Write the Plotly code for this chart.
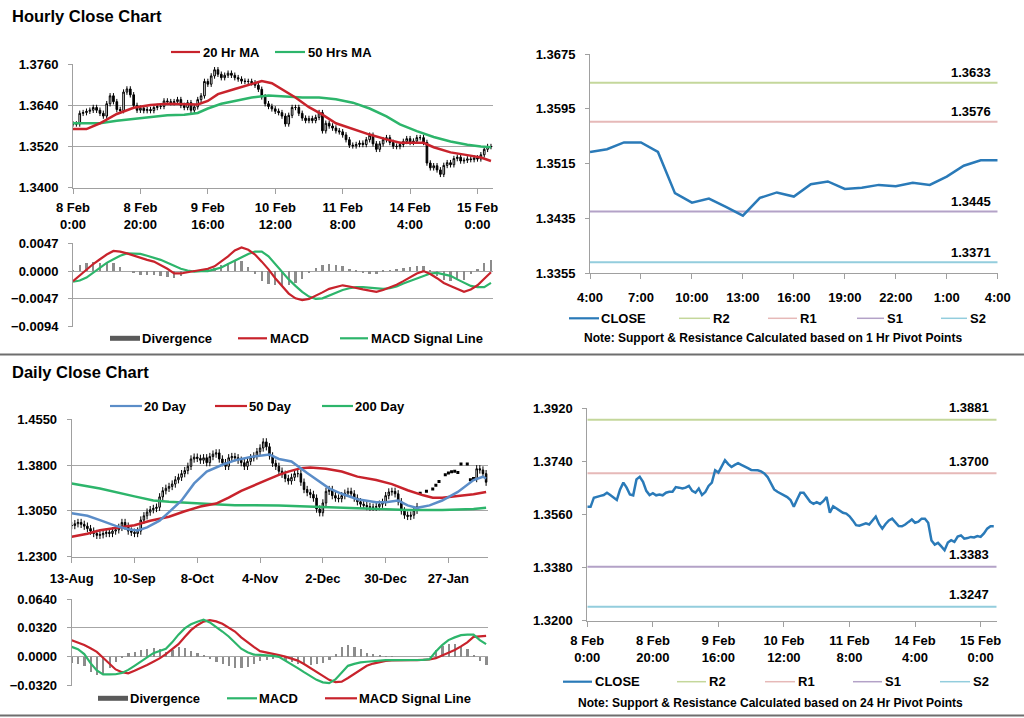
import plotly.graph_objects as go

W, H = 1024, 718
FONT = "Liberation Sans, Arial, Helvetica, sans-serif"

# ---------------- data ----------------
# hourly closes, 8 Feb 0:00 .. 15 Feb 4:00 (125 trading hours)
hourly_close = [
    1.3586, 1.3586, 1.3617, 1.3619, 1.3623, 1.3626, 1.3634, 1.3626, 1.3617, 1.3609,
    1.3645, 1.3668, 1.3651, 1.3628, 1.3625, 1.3679, 1.3688, 1.3671, 1.3640, 1.3626,
    1.3632, 1.3625, 1.3628, 1.3625, 1.3634, 1.3637, 1.3637, 1.3653, 1.3651, 1.3648,
    1.3651, 1.3657, 1.3640, 1.3634, 1.3648, 1.3626, 1.3636, 1.3657, 1.3668, 1.3710,
    1.3702, 1.3726, 1.3744, 1.3731, 1.3721, 1.3728, 1.3734, 1.3728, 1.3721, 1.3717,
    1.3711, 1.3710, 1.3710, 1.3706, 1.3699, 1.3687, 1.3665, 1.3645, 1.3637, 1.3630,
    1.3623, 1.3619, 1.3609, 1.3586, 1.3611, 1.3634, 1.3634, 1.3617, 1.3603, 1.3596,
    1.3602, 1.3596, 1.3605, 1.3619, 1.3566, 1.3588, 1.3580, 1.3574, 1.3566, 1.3563,
    1.3554, 1.3540, 1.3524, 1.3522, 1.3526, 1.3530, 1.3526, 1.3540, 1.3553, 1.3528,
    1.3512, 1.3528, 1.3540, 1.3546, 1.3532, 1.3521, 1.3520, 1.3526, 1.3535, 1.3543,
    1.3532, 1.3536, 1.3546, 1.3546, 1.3532, 1.3472, 1.3458, 1.3464, 1.3452, 1.3439,
    1.3465, 1.3473, 1.3467, 1.3485, 1.3489, 1.3478, 1.3480, 1.3484, 1.3482, 1.3487,
    1.3484, 1.3496, 1.3512, 1.3520, 1.3520,
]
hourly_tick_pos = [0, 20, 40, 60, 80, 100, 120]
hourly_tick_labels = ["8 Feb<br>0:00", "8 Feb<br>20:00", "9 Feb<br>16:00", "10 Feb<br>12:00",
                      "11 Feb<br>8:00", "14 Feb<br>4:00", "15 Feb<br>0:00"]

ma20h_x = [0, 4, 8, 13, 18, 23, 28, 33, 37, 40, 43, 48, 53, 56, 59, 62, 66, 70, 74, 78,
           83, 88, 93, 97, 101, 104, 107, 112, 117, 121, 124]
ma20h_y = [1.3571, 1.3571, 1.3588, 1.3615, 1.3633, 1.3641, 1.3645, 1.3645, 1.3643, 1.3653,
           1.3673, 1.3688, 1.3703, 1.3711, 1.3705, 1.3688, 1.3663, 1.3635, 1.3613, 1.3588,
           1.3571, 1.3555, 1.3541, 1.3531, 1.3531, 1.3531, 1.3518, 1.3503, 1.3495, 1.3488, 1.3478]
ma50h_x = [0, 4, 8, 13, 18, 23, 28, 33, 37, 40, 44, 48, 53, 58, 63, 68, 73, 78, 83, 88,
           93, 97, 102, 107, 112, 117, 121, 124]
ma50h_y = [1.3588, 1.3588, 1.3588, 1.3595, 1.3601, 1.3606, 1.3611, 1.3613, 1.3618, 1.3631,
           1.3645, 1.3653, 1.3663, 1.3669, 1.3666, 1.3663, 1.3663, 1.3658, 1.3648, 1.3631,
           1.3608, 1.3585, 1.3565, 1.3548, 1.3535, 1.3525, 1.3520, 1.3518]

hmacd_x = list(range(0, 125, 2))
hmacd = [
    -0.0017, -0.0007, 0.0003, 0.0012, 0.0020, 0.0028, 0.0034, 0.0033, 0.0030, 0.0026,
    0.0022, 0.0019, 0.0016, 0.0010, 0.0004, -0.0004, -0.0004, -0.0002, 0.0000, 0.0001,
    0.0004, 0.0008, 0.0016, 0.0025, 0.0035, 0.0040, 0.0036, 0.0028, 0.0016, 0.0003,
    -0.0012, -0.0026, -0.0038, -0.0046, -0.0049, -0.0047, -0.0042, -0.0036, -0.0030, -0.0027,
    -0.0024, -0.0026, -0.0029, -0.0031, -0.0033, -0.0035, -0.0032, -0.0028, -0.0023, -0.0017,
    -0.0011, -0.0004, 0.0000, -0.0005, -0.0012, -0.0020, -0.0025, -0.0030, -0.0035, -0.0031,
    -0.0024, -0.0013, -0.0002,
]
hsignal = [
    -0.0018, -0.0016, -0.0011, -0.0003, 0.0006, 0.0014, 0.0020, 0.0026, 0.0030, 0.0030,
    0.0029, 0.0026, 0.0023, 0.0019, 0.0014, 0.0009, 0.0004, 0.0001, -0.0001, 0.0000,
    0.0000, 0.0003, 0.0006, 0.0012, 0.0018, 0.0024, 0.0029, 0.0033, 0.0033, 0.0025,
    0.0012, -0.0001, -0.0014, -0.0025, -0.0035, -0.0043, -0.0047, -0.0046, -0.0041, -0.0036,
    -0.0032, -0.0029, -0.0027, -0.0027, -0.0028, -0.0029, -0.0030, -0.0029, -0.0026, -0.0021,
    -0.0017, -0.0012, -0.0008, -0.0004, -0.0003, -0.0005, -0.0008, -0.0014, -0.0020, -0.0025,
    -0.0027, -0.0027, -0.0020,
]

last25_tick_pos = [0, 3, 6, 9, 12, 15, 18, 21, 24]
last25_tick_labels = ["4:00", "7:00", "10:00", "13:00", "16:00", "19:00", "22:00", "1:00", "4:00"]

pivot_names = ["R2", "R1", "S1", "S2"]
hourly_pivots = [1.3633, 1.3576, 1.3445, 1.3371]
daily_pivots = [1.3881, 1.3700, 1.3383, 1.3247]

daily_tick_pos = [0, 20, 40, 60, 80, 100, 120]
daily_tick_labels = ["13-Aug", "10-Sep", "8-Oct", "4-Nov", "2-Dec", "30-Dec", "27-Jan"]

# daily closes, day 0 .. 110
daily_close_a = [
    1.281, 1.284, 1.286, 1.283, 1.280, 1.276, 1.272, 1.268, 1.265, 1.266,
    1.268, 1.270, 1.268, 1.272, 1.274, 1.278, 1.286, 1.280, 1.272, 1.270,
    1.268, 1.272, 1.290, 1.297, 1.303, 1.307, 1.309, 1.311, 1.328, 1.338,
    1.342, 1.345, 1.349, 1.356, 1.360, 1.366, 1.371, 1.378, 1.390, 1.393,
    1.391, 1.388, 1.392, 1.384, 1.394, 1.398, 1.400, 1.390, 1.384, 1.378,
    1.392, 1.394, 1.392, 1.388, 1.384, 1.378, 1.386, 1.392, 1.395, 1.402,
    1.408, 1.418, 1.410, 1.395, 1.383, 1.378, 1.370, 1.365, 1.358, 1.354,
    1.360, 1.366, 1.366, 1.352, 1.340, 1.335, 1.332, 1.326, 1.308, 1.302,
    1.318, 1.337, 1.340, 1.330, 1.326, 1.325, 1.330, 1.334, 1.337, 1.333,
    1.326, 1.320, 1.316, 1.314, 1.312, 1.311, 1.311, 1.312, 1.316, 1.319,
    1.330, 1.336, 1.337, 1.333, 1.320, 1.305, 1.298, 1.296, 1.298, 1.306, 1.312,
]
daily_dots_x = [111, 113, 115, 116, 117, 119, 120, 121, 122, 123, 124, 126, 127, 128]
daily_dots_y = [1.334, 1.337, 1.341, 1.347, 1.353, 1.364, 1.367, 1.369, 1.370, 1.368,
                1.382, 1.382, 1.356, 1.358]
daily_x_b = [129, 130, 131, 132]
daily_close_b = [1.374, 1.372, 1.366, 1.352]

d20_x = [0, 5, 9, 14, 18, 21, 24, 28, 31, 35, 39, 43, 48, 52, 57, 60, 63, 66, 70, 75,
         79, 82, 86, 91, 97, 100, 104, 107, 110, 114, 118, 123, 128, 131, 132]
d20_y = [1.3010, 1.2970, 1.2900, 1.2805, 1.2750, 1.2730, 1.2780, 1.2890, 1.3030, 1.3220,
         1.3500, 1.3694, 1.3806, 1.3878, 1.3933, 1.3956, 1.3972, 1.3900, 1.3860, 1.3670,
         1.3530, 1.3420, 1.3330, 1.3240, 1.3190, 1.3190, 1.3220, 1.3140, 1.3100, 1.3140,
         1.3220, 1.3360, 1.3555, 1.3610, 1.3580]
d50_x = [0, 5, 9, 15, 20, 25, 31, 36, 41, 46, 50, 54, 58, 62, 66, 69, 73, 76, 81, 86,
         91, 97, 102, 107, 112, 115, 118, 123, 128, 132]
d50_y = [1.2627, 1.2677, 1.2733, 1.2777, 1.2816, 1.2888, 1.2955, 1.3044, 1.3122, 1.3170,
         1.3266, 1.3377, 1.3472, 1.3555, 1.3639, 1.3694, 1.3750, 1.3761, 1.3739, 1.3694,
         1.3611, 1.3555, 1.3489, 1.3389, 1.3305, 1.3266, 1.3266, 1.3289, 1.3322, 1.3361]
d200_x = [0, 9, 20, 26, 31, 36, 41, 47, 52, 66, 75, 86, 97, 107, 118, 124, 128, 132]
d200_y = [1.3500, 1.3416, 1.3288, 1.3222, 1.3200, 1.3183, 1.3166, 1.3155, 1.3144, 1.3139,
          1.3122, 1.3100, 1.3077, 1.3066, 1.3066, 1.3072, 1.3083, 1.3100]

dmacd_x = list(range(0, 133, 2))
dmacd = [
    0.0110, 0.0085, 0.0030, -0.0070, -0.0150, -0.0195, -0.0195, -0.0193, -0.0178, -0.0145,
    -0.0100, -0.0055, -0.0005, 0.0040, 0.0065, 0.0088, 0.0160, 0.0245, 0.0315, 0.0360,
    0.0388, 0.0410, 0.0380, 0.0335, 0.0280, 0.0225, 0.0155, 0.0090, 0.0050, 0.0025,
    0.0022, 0.0018, 0.0010, 0.0000, -0.0040, -0.0080, -0.0125, -0.0170, -0.0215, -0.0255,
    -0.0283, -0.0292, -0.0250, -0.0170, -0.0100, -0.0078, -0.0062, -0.0055, -0.0048, -0.0042,
    -0.0037, -0.0037, -0.0037, -0.0037, -0.0037, -0.0037, -0.0035, -0.0026, 0.0060, 0.0130,
    0.0185, 0.0215, 0.0240, 0.0245, 0.0245, 0.0184, 0.0140,
]
dsignal = [
    0.0184, 0.0160, 0.0130, 0.0095, 0.0055, -0.0010, -0.0075, -0.0140, -0.0170, -0.0182,
    -0.0155, -0.0125, -0.0090, -0.0055, -0.0018, 0.0030, 0.0080, 0.0140, 0.0220, 0.0295,
    0.0350, 0.0390, 0.0405, 0.0392, 0.0365, 0.0325, 0.0280, 0.0215, 0.0160, 0.0110,
    0.0063, 0.0050, 0.0037, 0.0018, 0.0002, -0.0020, -0.0042, -0.0080, -0.0125, -0.0170,
    -0.0215, -0.0255, -0.0280, -0.0275, -0.0235, -0.0190, -0.0145, -0.0100, -0.0075, -0.0056,
    -0.0045, -0.0040, -0.0037, -0.0037, -0.0037, -0.0037, -0.0035, -0.0030, -0.0015, 0.0015,
    0.0045, 0.0075, 0.0115, 0.0160, 0.0220, 0.0230, 0.0232,
]

# ---------------- styles ----------------
RED = "#c8232c"
GREEN = "#2db56b"
BLUE_CLOSE = "#2a7ab8"
BLUE20 = "#5b8dc8"
BAR_GRAY = "#8c8c8c"
DIV_LEGEND = "#5a5a5a"
GRID = "#a6a6a6"
AXIS = "#a0a0a0"
PIVOT_COLORS = ["#c4d79b", "#e6b9b8", "#b3a2c7", "#93cddd"]
HOURLY_WICK = 0.0008
DAILY_WICK = 0.006
TICK_SIZE = 13
LEG_SIZE = 13


def candles(x, close, first_open, wick, xa, ya):
    opens = [first_open] + close[:-1]
    highs = [max(o, c) + wick for o, c in zip(opens, close)]
    lows = [min(o, c) - wick for o, c in zip(opens, close)]
    return go.Candlestick(
        x=x, open=opens, high=highs, low=lows, close=close, xaxis=xa, yaxis=ya,
        increasing=dict(line=dict(color="#000000", width=1), fillcolor="#ffffff"),
        decreasing=dict(line=dict(color="#000000", width=1), fillcolor="#000000"),
        whiskerwidth=0, showlegend=False, hoverinfo="skip")


def line(x, y, color, width, xa, ya):
    return go.Scatter(x=x, y=y, mode="lines", line=dict(color=color, width=width),
                      xaxis=xa, yaxis=ya, showlegend=False, hoverinfo="skip")


fig = go.Figure()

# Panel A: hourly candles + MAs
fig.add_trace(candles(list(range(len(hourly_close))), hourly_close, hourly_close[0],
                      HOURLY_WICK, "x", "y"))
fig.add_trace(line(ma50h_x, ma50h_y, GREEN, 2.5, "x", "y"))
fig.add_trace(line(ma20h_x, ma20h_y, RED, 2.5, "x", "y"))

# Panel B: hourly MACD
fig.add_trace(go.Bar(x=hmacd_x, y=[m - s for m, s in zip(hmacd, hsignal)], width=0.7,
                     marker=dict(color=BAR_GRAY, line=dict(width=0)), xaxis="x2", yaxis="y2",
                     showlegend=False, hoverinfo="skip"))
fig.add_trace(line(hmacd_x, hsignal, GREEN, 2.2, "x2", "y2"))
fig.add_trace(line(hmacd_x, hmacd, RED, 2.2, "x2", "y2"))

# Panel C: last 25 hours with pivots
last25 = hourly_close[-25:]
for lvl, col in zip(hourly_pivots, PIVOT_COLORS):
    fig.add_trace(line([0, 24], [lvl, lvl], col, 2, "x3", "y3"))
fig.add_trace(line(list(range(len(last25))), last25, BLUE_CLOSE, 2.5, "x3", "y3"))

# Panel D: daily candles + MAs
fig.add_trace(candles(list(range(len(daily_close_a))), daily_close_a, daily_close_a[0],
                      DAILY_WICK, "x4", "y4"))
fig.add_trace(candles(daily_x_b, daily_close_b, daily_dots_y[-1], DAILY_WICK, "x4", "y4"))
fig.add_trace(go.Scatter(x=daily_dots_x, y=daily_dots_y, mode="markers",
                         marker=dict(color="#000000", size=3, symbol="square"),
                         xaxis="x4", yaxis="y4", showlegend=False, hoverinfo="skip"))
fig.add_trace(line(d200_x, d200_y, GREEN, 2.5, "x4", "y4"))
fig.add_trace(line(d50_x, d50_y, RED, 2.5, "x4", "y4"))
fig.add_trace(line(d20_x, d20_y, BLUE20, 2.5, "x4", "y4"))

# Panel E: daily MACD
fig.add_trace(go.Bar(x=dmacd_x, y=[m - s for m, s in zip(dmacd, dsignal)], width=0.7,
                     marker=dict(color=BAR_GRAY, line=dict(width=0)), xaxis="x5", yaxis="y5",
                     showlegend=False, hoverinfo="skip"))
fig.add_trace(line(dmacd_x, dsignal, RED, 2.2, "x5", "y5"))
fig.add_trace(line(dmacd_x, dmacd, GREEN, 2.2, "x5", "y5"))

# Panel F: hourly close with daily pivots
for lvl, col in zip(daily_pivots, PIVOT_COLORS):
    fig.add_trace(line([0, 124.9], [lvl, lvl], col, 2, "x6", "y6"))
fig.add_trace(line(list(range(len(hourly_close))), hourly_close, BLUE_CLOSE, 2.5, "x6", "y6"))

# ---------------- axes ----------------
TICKFONT = dict(family=FONT, size=TICK_SIZE, color="#000000", weight="bold")


def xax(x0, x1, rng, anchor, tickvals=None, ticktext=None, labels=True, line_on=True, standoff=3):
    d = dict(domain=[x0 / W, x1 / W], range=rng, anchor=anchor, showgrid=False, zeroline=False,
             showline=line_on, linecolor=AXIS, linewidth=1, fixedrange=True, automargin=False,
             rangeslider=dict(visible=False))
    if labels:
        d.update(tickmode="array", tickvals=tickvals, ticktext=ticktext, ticks="outside",
                 ticklen=5, tickcolor=AXIS, tickfont=TICKFONT, ticklabelstandoff=standoff)
    else:
        d.update(showticklabels=False, ticks="")
    return d


def yax(top, bottom, rng, anchor, tickvals, grid=True):
    return dict(domain=[1 - bottom / H, 1 - top / H], range=rng, anchor=anchor,
                tickmode="array", tickvals=tickvals, tickformat=".4f",
                showgrid=grid, gridcolor=GRID, gridwidth=1, zeroline=False,
                showline=True, linecolor=AXIS, linewidth=1, ticks="outside", ticklen=4,
                tickcolor=AXIS, tickfont=TICKFONT, ticklabelstandoff=7, fixedrange=True,
                automargin=False)


layout = dict(
    width=W, height=H, margin=dict(l=0, r=0, t=0, b=0, pad=0, autoexpand=False), autosize=False,
    paper_bgcolor="#ffffff", plot_bgcolor="#ffffff", showlegend=False,
    font=dict(family=FONT, color="#000000"),
    xaxis=xax(73, 493, [0, 124.6], "y", hourly_tick_pos, hourly_tick_labels),
    yaxis=yax(64.3, 187.7, [1.34, 1.376], "x", [1.34, 1.352, 1.364, 1.376]),
    xaxis2=xax(73, 493, [0, 124.6], "y2", labels=False, line_on=False),
    yaxis2=yax(243.3, 326.7, [-0.0094, 0.0047], "x2", [-0.0094, -0.0047, 0, 0.0047]),
    xaxis3=xax(590, 997.7, [0, 24], "y3", last25_tick_pos, last25_tick_labels, standoff=7),
    yaxis3=yax(54, 273.3, [1.3355, 1.3675], "x3", [1.3355, 1.3435, 1.3515, 1.3595, 1.3675], grid=False),
    xaxis4=xax(71.7, 488.3, [0, 132.7], "y4", daily_tick_pos, daily_tick_labels, standoff=5),
    yaxis4=yax(419.3, 556.7, [1.23, 1.455], "x4", [1.23, 1.305, 1.38, 1.455]),
    xaxis5=xax(71.7, 488.3, [0, 132.7], "y5", labels=False, line_on=False),
    yaxis5=yax(599, 685.7, [-0.032, 0.064], "x5", [-0.032, 0, 0.032, 0.064]),
    xaxis6=xax(587.3, 996.7, [0, 124.9], "y6", hourly_tick_pos, hourly_tick_labels),
    yaxis6=yax(408.3, 620.7, [1.32, 1.392], "x6", [1.32, 1.338, 1.356, 1.374, 1.392], grid=False),
    bargap=0,
)
fig.update_layout(**layout)

# ---------------- titles, legends, notes ----------------
shapes = []
annotations = []


def txt(x, y, s, size=LEG_SIZE, anchor="left"):
    annotations.append(dict(xref="paper", yref="paper", x=x / W, y=1 - y / H, text=s,
                            showarrow=False, xanchor=anchor, yanchor="middle",
                            font=dict(family=FONT, size=size, color="#000000", weight="bold")))


def leg(x0, x1, y, color, label, tx, width=2.2):
    shapes.append(dict(type="line", xref="paper", yref="paper", x0=x0 / W, x1=x1 / W,
                       y0=1 - y / H, y1=1 - y / H, line=dict(color=color, width=width)))
    txt(tx, y, label)


txt(10, 16, "Hourly Close Chart", size=16.5)
txt(10, 372, "Daily Close Chart", size=16.5)

leg(171, 200, 52, RED, "20 Hr MA", 201)
leg(275, 305, 52, GREEN, "50 Hrs MA", 306)

leg(110, 140, 338.3, DIV_LEGEND, "Divergence", 140, width=5)
leg(238, 267, 338.3, RED, "MACD", 268)
leg(340, 368, 338.3, GREEN, "MACD Signal Line", 369)

leg(569, 599, 318.3, BLUE_CLOSE, "CLOSE", 599)
for (x0, x1, tx), name, col in zip([(679, 710, 711), (768, 797, 798), (857, 884, 885), (941, 967, 968)],
                                   pivot_names, PIVOT_COLORS):
    leg(x0, x1, 318.3, col, name, tx, width=1.5)
txt(773, 338, "Note: Support & Resistance Calculated based on 1 Hr Pivot Points", size=12, anchor="center")

leg(110, 142, 406, BLUE20, "20 Day", 142)
leg(215, 247, 406, RED, "50 Day", 247)
leg(322, 353, 406, GREEN, "200 Day", 353)

leg(98, 128, 698.3, DIV_LEGEND, "Divergence", 128, width=5)
leg(227, 257, 698.3, GREEN, "MACD", 257)
leg(325, 357, 698.3, RED, "MACD Signal Line", 357)

leg(563, 592, 681.7, BLUE_CLOSE, "CLOSE", 593)
for (x0, x1, tx), name, col in zip([(677, 706, 707), (765, 795, 796), (853, 882, 883), (940, 970, 971)],
                                   pivot_names, PIVOT_COLORS):
    leg(x0, x1, 681.7, col, name, tx, width=1.5)
txt(770, 703.3, "Note: Support & Resistance Calculated based on 24 Hr Pivot Points", size=12, anchor="center")

# pivot value labels
for lvl in hourly_pivots:
    annotations.append(dict(xref="x3", yref="y3", x=24, y=lvl, text=f"{lvl:.4f}", showarrow=False,
                            xanchor="right", yanchor="middle", xshift=-5, yshift=10,
                            font=dict(family=FONT, size=TICK_SIZE, color="#000000", weight="bold")))
for lvl in daily_pivots:
    annotations.append(dict(xref="x6", yref="y6", x=124.9, y=lvl, text=f"{lvl:.4f}", showarrow=False,
                            xanchor="right", yanchor="middle", xshift=-6, yshift=12,
                            font=dict(family=FONT, size=TICK_SIZE, color="#000000", weight="bold")))

# section separators
for y in (354.5, 715.5):
    shapes.append(dict(type="line", xref="paper", yref="paper", x0=0, x1=1,
                       y0=1 - y / H, y1=1 - y / H, line=dict(color="#6e6e6e", width=2)))

fig.update_layout(shapes=shapes, annotations=annotations)
fig.write_html("out.html", config={"displayModeBar": False},
               post_script="document.body.style.margin='0px';document.body.style.padding='0px';")
